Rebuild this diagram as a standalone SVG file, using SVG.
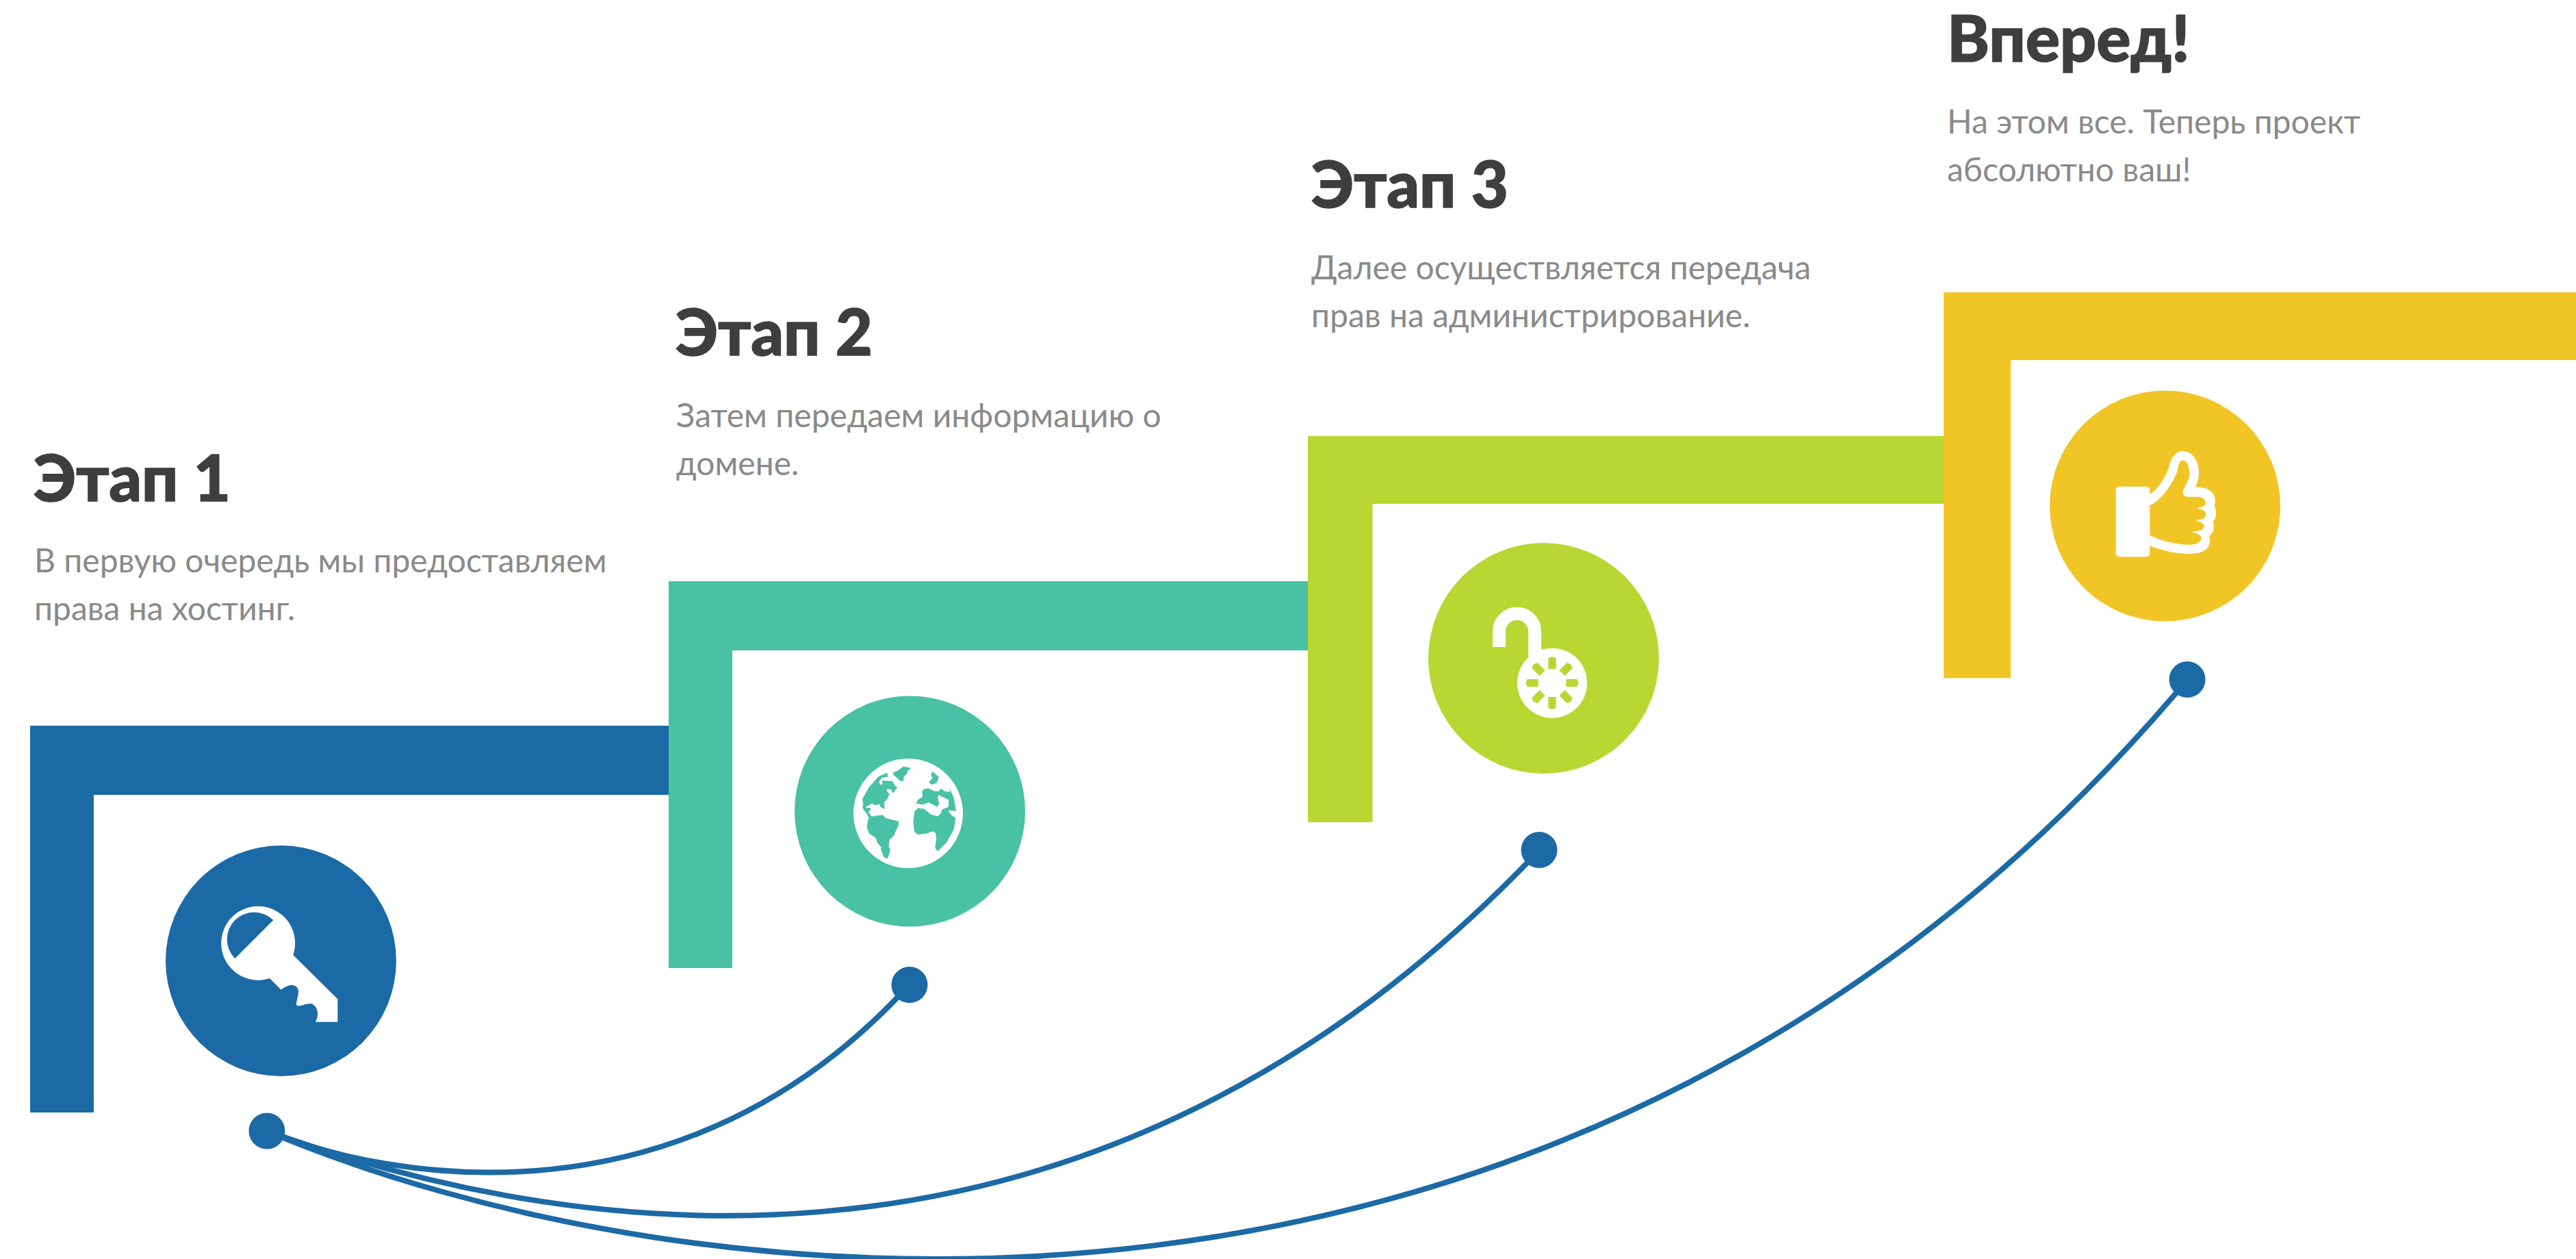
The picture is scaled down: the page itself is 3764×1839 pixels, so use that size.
<svg xmlns="http://www.w3.org/2000/svg" xmlns:xlink="http://www.w3.org/1999/xlink" width="3764" height="1839" viewBox="0 0 3764 1839">
<style>
.h{font-family:Lato,"Noto Sans",sans-serif;font-weight:900;font-size:93.5px;fill:#3e3e3e;stroke:#3e3e3e;stroke-width:1.5}
.b{font-family:Lato,"Noto Sans",sans-serif;font-size:48px;fill:#8a8a8a}
.blue{fill:#1c6aa5}.teal{fill:#48c1a4}.lime{fill:#b9d732}.yellow{fill:#f1c526}
.w{fill:#fff}
.c{fill:none;stroke:#1c6aa5;stroke-width:8}
</style>
<defs><polygon id="win" points="547,544 564,537 581,544 581,592 547,592"/></defs>
<rect width="3764" height="1839" fill="#fff"/>
<g id="step4">
<path class="yellow" d="M2840 427H3764V526H2938V990.500H2840Z"/>
<text class="h" x="2845" y="90">Вперед!</text>
<text class="b" x="2845" y="195">На этом все. Теперь проект</text>
<text class="b" x="2845" y="265">абсолютно ваш!</text>
<circle class="yellow" cx="3163.5" cy="739" r="168.5"/>
<g transform="translate(3000,570) scale(.33333)">
<rect class="w" x="275" y="422" width="149" height="308" rx="15"/>
<path class="w" fill-rule="evenodd" d="M424 456C465 430 500 370 512 320C522 285 545 267 570 267C610 267 640 310 639 365C638 390 630 410 623 425C665 422 712 440 710 485C710 495 708 505 707 508C718 525 718 560 700 578C710 595 705 625 684 640C695 680 675 717 600 717C540 717 465 700 424 680ZM424 505C480 480 540 390 550 330C552 315 560 307 570 307C585 307 598 335 598 370C598 395 570 430 568 448C568 458 578 467 590 467H635C655 467 668 478 668 493C668 505 658 513 640 513C634 513 634 521 640 521C658 522 670 532 670 545C670 558 655 567 635 567C628 568 628 575 635 575C650 577 662 585 662 597C660 610 645 618 620 618C612 618 612 625 620 626C637 628 650 638 650 650C648 665 625 677 600 677C540 677 470 660 424 635Z"/>
</g>
</g>
<g id="step3">
<path class="lime" d="M1911 637H2840V736H2005.500V1201H1911Z"/>
<text class="h" x="1916" y="303">Этап 3</text>
<text class="b" x="1916" y="408">Далее осуществляется передача</text>
<text class="b" x="1916" y="478">прав на администрирование.</text>
<circle class="lime" cx="2255.5" cy="961.5" r="168.5"/>
<g transform="translate(2080,780) scale(.33333)">
<circle class="w" cx="564" cy="653" r="153"/>
<path d="M331.5 495V421A78.5 78.5 0 0 1 488 421V545" fill="none" stroke="#fff" stroke-width="57"/>
<use href="#win" class="lime"/>
<use href="#win" class="lime" transform="rotate(45 564 653)"/>
<use href="#win" class="lime" transform="rotate(90 564 653)"/>
<use href="#win" class="lime" transform="rotate(135 564 653)"/>
<use href="#win" class="lime" transform="rotate(180 564 653)"/>
<use href="#win" class="lime" transform="rotate(225 564 653)"/>
<use href="#win" class="lime" transform="rotate(270 564 653)"/>
<use href="#win" class="lime" transform="rotate(315 564 653)"/>
</g>
</g>
<g id="step2">
<path class="teal" d="M977 849H1911V950H1070V1414H977Z"/>
<text class="h" x="987" y="519">Этап 2</text>
<text class="b" x="988" y="624">Затем передаем информацию о</text>
<text class="b" x="988" y="694">домене.</text>
<circle class="teal" cx="1329.5" cy="1185" r="168.5"/>
<g transform="translate(1140,1000) scale(.33333)">
<circle class="w" cx="561" cy="564" r="240"/>
<g transform="translate(300,300)" stroke="#48c1a4" stroke-width="2" stroke-linejoin="round" class="teal">
<polygon points="197,85 215,78 240,60 272,66 258,77 255,90 240,105 240,120 230,123 197,95"/>
<polygon points="168,87 172,103 145,108 133,125 137,140 150,137 147,122 192,124 203,145 213,150 195,175 185,158 170,155 165,165 178,178 170,200 155,215 157,245 140,235 135,222 115,228 103,220 75,235 78,242 92,240 97,248 85,258 100,278 150,272 160,285 218,300 218,315 198,360 178,380 175,410 182,425 170,462 155,455 143,425 143,410 128,395 120,372 90,352 81,325 85,295 90,285 80,265 62,240 65,220 60,205 90,150 130,105"/>
</g>
<g transform="translate(570,300)" stroke="#48c1a4" stroke-width="2" stroke-linejoin="round" class="teal">
<polygon points="98,82 125,105 115,130 95,138 82,128 98,110 92,95"/>
<polygon points="58,160 80,155 105,168 125,168 135,156 150,168 175,172 173,158 190,195 200,255 190,251 165,251 180,272 198,285 190,335 160,390 120,430 110,415 115,380 113,350 100,342 70,352 30,356 18,340 14,300 20,255 35,242 60,245 90,270 120,278 135,265 140,248 168,237 170,205 122,182 120,200 127,220 118,235 80,215 55,225 27,220 35,205 55,192 53,170"/>
</g>
</g>
</g>
<g id="step1">
<path class="blue" d="M44 1060H977V1161H137V1625H44Z"/>
<text class="h" x="49" y="732">Этап 1</text>
<text class="b" x="50" y="836">В первую очередь мы предоставляем</text>
<text class="b" x="50" y="906">права на хостинг.</text>
<circle class="blue" cx="410.5" cy="1403.5" r="168.5"/>
<g transform="translate(200,1200) scale(.33333)">
<path class="w" fill-rule="evenodd" d="M685 585L880 778V878H783C800 850 795 810 765 798C740 795 710 815 700 805C695 790 720 740 700 725C680 705 650 725 632 737L582 687A162 162 0 1 1 685 585ZM598 432A118 118 0 0 0 430 600Z"/>
</g>
</g>
<g id="connectors">
<path class="c" d="M390 1652C570 1725 1000 1800 1329 1438"/>
<path class="c" d="M390 1652C760 1785 1560 1970 2249 1242"/>
<path class="c" d="M390 1652C1000 1910 2300 2060 3196 993"/>
<circle class="blue" cx="390" cy="1652" r="26.5"/>
<circle class="blue" cx="1329" cy="1438.5" r="26.5"/>
<circle class="blue" cx="2249" cy="1241.5" r="26.5"/>
<circle class="blue" cx="3196" cy="992.5" r="26.5"/>
</g>
</svg>
